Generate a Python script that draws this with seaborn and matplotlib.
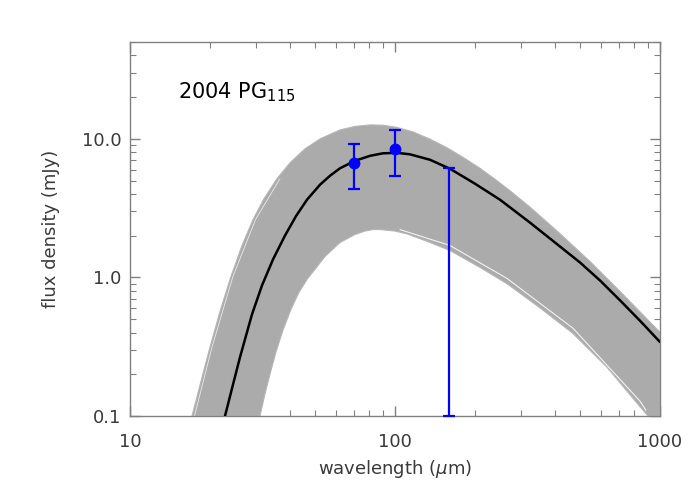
import matplotlib
matplotlib.use("Agg")
import matplotlib.pyplot as plt
import matplotlib.ticker as mticker
import numpy as np
import seaborn as sns

# best-fit thermal model curve
fit_wave = [22.83, 24.26, 26.01, 28.87, 31.49, 34.64, 38.45, 42.31, 46.56,
            52.12, 56.85, 62.0, 70.65, 80.5, 90.09, 101.7, 113.9, 135.6,
            161.3, 200.4, 248.9, 323.1, 419.4, 499.0, 593.6, 706.6, 840.4,
            1000]
fit_flux = [0.100, 0.158, 0.266, 0.542, 0.876, 1.348, 2.005, 2.770, 3.640,
            4.668, 5.418, 6.134, 6.946, 7.545, 7.865, 7.930, 7.736, 7.062,
            6.083, 4.746, 3.640, 2.487, 1.671, 1.282, 0.951, 0.683, 0.487,
            0.342]

# envelope of the Monte-Carlo model curves (grey band)
upper_wave = [17.14, 18.37, 20.04, 21.86, 24.05, 26.46, 29.12, 32.04, 35.86,
              40.16, 45.75, 52.12, 62.0, 70.65, 80.5, 90.09, 101.7, 116.9,
              135.6, 157.1, 180.6, 209.4, 242.6, 278.8, 323.1, 419.4, 544.3,
              706.6, 1000]
upper_flux = [0.100, 0.167, 0.314, 0.569, 1.017, 1.699, 2.615, 3.701, 5.155,
              6.720, 8.475, 10.0, 11.60, 12.30, 12.61, 12.55, 12.10, 11.23,
              9.95, 8.63, 7.36, 6.13, 4.99, 4.06, 3.22, 2.07, 1.304, 0.793,
              0.402]
lower_wave = [30.94, 32.31, 33.75, 35.55, 37.78, 40.51, 43.42, 46.56, 50.35,
              54.44, 62.0, 70.65, 77.03, 82.6, 87.78, 100, 111.0, 129.8,
              161.3, 209.4, 264.6, 352.5, 469.6, 631.0, 840.4, 900.6]
lower_flux = [0.100, 0.144, 0.2005, 0.289, 0.416, 0.589, 0.780, 0.967, 1.170,
              1.416, 1.786, 2.039, 2.160, 2.215, 2.215, 2.160, 2.062, 1.846,
              1.564, 1.180, 0.901, 0.603, 0.394, 0.225, 0.1167, 0.100]

# thin gaps between clusters of model curves
gap1_wave = [17.51, 20.39, 24.47, 29.76, 36.81]
gap1_flux = [0.100, 0.314, 1.017, 2.615, 5.155]
gap2_wave = [104.4, 161.3, 264.6, 469.6, 840.4, 885.4]
gap2_flux = [2.215, 1.699, 0.984, 0.430, 0.128, 0.110]

# PACS photometry
obs_wave = [70, 100]
obs_flux = [6.75, 8.43]
obs_lo = [4.32, 5.42]
obs_hi = [9.16, 11.55]
lim_wave = [160]
lim_top = [6.15]

sns.set_style("ticks")
plt.rcParams['font.family'] = ['DejaVu Sans']
plt.rcParams['mathtext.fontset'] = 'dejavusans'

fig = plt.figure(figsize=(7, 5), dpi=100)
ax = fig.add_axes([130 / 700, 1 - 416 / 500, 530 / 700, 374 / 500])
ax.set_xscale('log')
ax.set_yscale('log')

frame = '#808080'
txt = '#3a3a3a'

# grey band: upper envelope, then lower envelope backwards
band_x = list(upper_wave) + [1000] + list(lower_wave[::-1])
band_y = list(upper_flux) + [0.1] + list(lower_flux[::-1])
ax.fill(band_x, band_y, color='#ababab', lw=0.8, ec='#b6b6b6', zorder=1)
ax.plot(gap1_wave, gap1_flux, color='white', lw=0.6, alpha=0.75, zorder=2)
ax.plot(gap2_wave, gap2_flux, color='white', lw=0.8, alpha=0.85, zorder=2)

sns.lineplot(x=fit_wave, y=fit_flux, ax=ax, color='black', lw=1.8,
             sort=False, estimator=None, zorder=3)

yerr = [np.subtract(obs_flux, obs_lo), np.subtract(obs_hi, obs_flux)]
ax.errorbar(obs_wave, obs_flux, yerr=yerr, fmt='o', color='blue', ms=7.5,
            elinewidth=1.6, capsize=4.5, capthick=1.6, zorder=4)
ax.errorbar(lim_wave, [0.1], yerr=[[0], np.subtract(lim_top, 0.1)], fmt='none',
            color='blue', elinewidth=1.6, capsize=4.5, capthick=1.6, zorder=4,
            clip_on=False)

ax.set_xlim(10, 1000)
ax.set_ylim(0.1, 50)

ax.xaxis.set_major_locator(mticker.FixedLocator([10, 100, 1000]))
ax.xaxis.set_major_formatter(mticker.FixedFormatter(['10', '100', '1000']))
ax.yaxis.set_major_locator(mticker.FixedLocator([0.1, 1, 10]))
ax.yaxis.set_major_formatter(mticker.FixedFormatter(['0.1', '1.0', '10.0']))
ax.xaxis.set_minor_locator(mticker.LogLocator(base=10, subs=np.arange(2, 10)))
ax.yaxis.set_minor_locator(mticker.LogLocator(base=10, subs=np.arange(2, 10)))
ax.xaxis.set_minor_formatter(mticker.NullFormatter())
ax.yaxis.set_minor_formatter(mticker.NullFormatter())

ax.tick_params(which='both', direction='in', top=True, right=True,
               color=frame, labelcolor=txt, labelsize=13)
ax.tick_params(which='major', length=7, width=1)
ax.tick_params(which='minor', length=4, width=0.8)
ax.tick_params(axis='x', which='major', pad=12)
ax.tick_params(axis='y', which='major', pad=6)
for sp in ax.spines.values():
    sp.set_color(frame)
    sp.set_linewidth(1)

ax.set_xlabel(r'wavelength ($\mu$m)', fontsize=13, color=txt, labelpad=5)
ax.set_ylabel('flux density (mJy)', fontsize=13, color=txt, labelpad=16)

ax.text(0.091, 0.85, r'2004 PG$_{115}$', transform=ax.transAxes,
        fontsize=15, color='black', va='baseline', ha='left')

fig.savefig('out.png', dpi=100)
